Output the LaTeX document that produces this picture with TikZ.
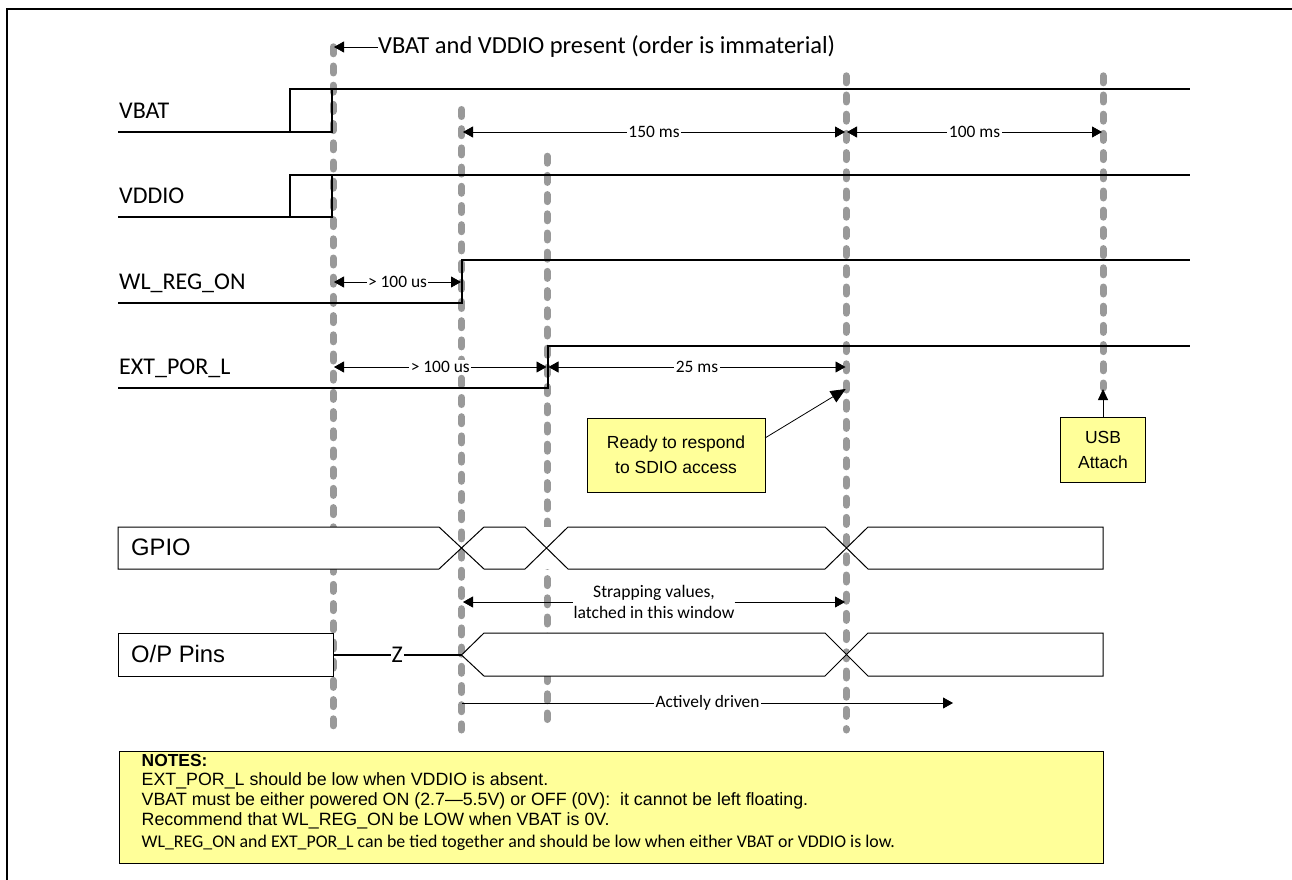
\documentclass[tikz,border=0pt]{standalone}
\usepackage{fontspec}
\setmainfont{Carlito}
\newfontfamily\arialf{Liberation Sans}
\usetikzlibrary{arrows.meta}
\definecolor{noteyellow}{HTML}{FFFF99}
\definecolor{guide}{HTML}{999999}
\tikzset{
 x=1pt,y=-1pt,
 guideline/.style={guide,line width=7pt,line cap=round,dash pattern=on 7pt off 12.2pt},
 signal/.style={black,line width=2pt},
 signaledge/.style={black,line width=1.4pt},
 bus/.style={black,line width=1pt,line join=miter},
 dim/.style={black,line width=.8pt,{Triangle[length=10pt,width=11pt]}-{Triangle[length=10pt,width=11pt]}},
 dimr/.style={black,line width=.8pt,-{Triangle[length=10pt,width=11pt]}},
 diml/.style={black,line width=.8pt,{Triangle[length=10pt,width=11pt]}-},
 siglabel/.style={inner sep=0pt,anchor=west,font=\fontsize{24}{28}\selectfont},
 buslabel/.style={inner sep=0pt,anchor=west,font=\arialf\fontsize{23.8}{28}\selectfont},
 dimlabel/.style={inner sep=1.5pt,fill=white,font=\fontsize{17.4}{21}\selectfont},
 callout/.style={draw=black,line width=1pt,fill=noteyellow,align=center,inner sep=0pt,font=\arialf\fontsize{17.5}{25}\selectfont},
 noteline/.style={inner sep=0pt,anchor=west,font=\arialf\fontsize{17.8}{20}\selectfont},
}
\begin{document}
\begin{tikzpicture}
\useasboundingbox (0,0) rectangle (1292,880);
% frame
\draw[black,line width=2pt] (6.7,880) -- (6.7,9) -- (1292,9);
% guides
\coordinate (g1t) at (333,46.8); \coordinate (g1b) at (333,726);
\coordinate (g2t) at (461.5,109.5); \coordinate (g2b) at (461.5,730);
\coordinate (g3t) at (547,156.2); \coordinate (g3b) at (547,719.5);
\coordinate (g4t) at (846,75.8); \coordinate (g4b) at (846,730);
\coordinate (g5t) at (1103,75.8); \coordinate (g5b) at (1103,388);
\foreach \i in {1,...,5} \draw[guideline] (g\i t) -- (g\i b);
% signals
\draw[signaledge] (118,132) -- (290,132) -- (290,89) -- (1190,89);
\draw[signal] (118,132) -- (332,132) -- (332,89);
\draw[signaledge] (118,217) -- (290,217) -- (290,175) -- (1190,175);
\draw[signal] (118,217) -- (332,217) -- (332,175);
\draw[signal] (118,303) -- (462,303) -- (462,260) -- (1190,260);
\draw[signal] (118,388) -- (548,388) -- (548,346) -- (1190,346);
\node[siglabel] (vbat) at (119,111) {VBAT};
\node[siglabel] (vddio) at (119,196) {VDDIO};
\node[siglabel] (wl) at (119,283) {WL\_REG\_ON};
\node[siglabel] (ext) at (119,368) {EXT\_POR\_L};
% top note
\node[inner sep=0pt,anchor=west,font=\fontsize{24.5}{28}\selectfont] (present) at (378,47) {VBAT and VDDIO present (order is immaterial)};
\coordinate (ptip) at (334,47);
\draw[diml] (ptip) -- (present.west);
% dimensions
\coordinate (a1) at (334,282); \coordinate (a2) at (461,282);
\draw[dim] (a1) -- node[dimlabel,pos=.5] (l1) {> 100 us} (a2);
\coordinate (b1) at (334,367); \coordinate (b2) at (546.5,367);
\draw[dim] (b1) -- node[dimlabel,pos=.5] (l2) {> 100 us} (b2);
\coordinate (c1) at (548.5,367); \coordinate (c2) at (845.5,367);
\draw[dim] (c1) -- node[dimlabel,pos=.5] (l3) {25 ms} (c2);
\coordinate (d1) at (463,132); \coordinate (d2) at (845,132);
\draw[dim] (d1) -- node[dimlabel,pos=.5] (l4) {150 ms} (d2);
\coordinate (e1) at (847,132); \coordinate (e2) at (1102,132);
\draw[dim] (e1) -- node[dimlabel,pos=.5] (l5) {100 ms} (e2);
% callouts
\node[callout,minimum width=178pt,minimum height=74pt] (ready) at (676,455) {\raisebox{-1pt}{Ready to respond}\\\raisebox{-1pt}{to SDIO access}};
\coordinate (readystart) at (765,438);
\coordinate (readytip) at (845.7,389);
\draw[black,line width=.8pt,-{Triangle[length=15pt,width=13pt]}] (readystart) -- (readytip);
\node[callout,minimum width=85pt,minimum height=65pt] (usb) at (1103,449.5) {USB\\Attach};
\coordinate (usbtip) at (1103,389);
\draw[black,line width=.8pt,-{Triangle[length=11pt,width=10pt]}] (usb.north) -- (usbtip);
% GPIO bus
\fill[white] (118,527) -- (439,527) -- (461.5,548) -- (439,569) -- (118,569) -- cycle;
\fill[white] (461.5,548) -- (484,527) -- (825,527) -- (846,548) -- (825,569) -- (484,569) -- cycle;
\fill[white] (846,548) -- (868,527) -- (1103,527) -- (1103,569) -- (868,569) -- cycle;
\draw[bus] (118,527) -- (439,527) -- (484,569) -- (525,569) -- (568,527) -- (825,527) -- (868,569) -- (1103,569) -- (1103,527) -- (868,527) -- (825,569) -- (568,569) -- (525,527) -- (484,527) -- (439,569) -- (118,569) -- cycle;
\node[buslabel] (gpio) at (131,547) {GPIO};
% strapping
\node[inner sep=0pt,align=center,font=\fontsize{17.6}{21}\selectfont] (strap) at (654,602) {Strapping values,\\latched in this window};
\coordinate (s1) at (463,602); \coordinate (s2) at (845,602);
\draw[diml] (s1) -- (strap.west |- s1);
\draw[dimr] (strap.east |- s2) -- (s2);
% O/P bus
\draw[bus,fill=white] (118,633) rectangle (333,676);
\node[buslabel] (op) at (131,654) {O/P Pins};
\coordinate (zl) at (333,655); \coordinate (zr) at (461.5,655);
\fill[white] (zr) -- (484,633) -- (825,633) -- (846,654.5) -- (825,676) -- (484,676) -- cycle;
\fill[white] (846,654.5) -- (868,633) -- (1103,633) -- (1103,676) -- (868,676) -- cycle;
\draw[signal] (zl) -- node[inner sep=1pt,fill=white,font=\fontsize{24}{28}\selectfont,pos=.5] (z) {Z} (zr);
\draw[bus] (zr) -- (484,633) -- (825,633) -- (868,676) -- (1103,676) -- (1103,633) -- (868,633) -- (825,676) -- (484,676) -- cycle;
% actively driven
\coordinate (ad1) at (462,703); \coordinate (ad2) at (953,703);
\draw[dimr] (ad1) -- node[dimlabel,pos=.5] (l6) {Actively driven} (ad2);
% notes
\draw[black,line width=1pt,fill=noteyellow] (119,751) rectangle (1103,863);
\node[noteline,font=\arialf\bfseries\fontsize{17.4}{20}\selectfont] (n0) at (141.5,761) {NOTES:};
\node[noteline] (n1) at (141.5,781) {EXT\_POR\_L should be low when VDDIO is absent.};
\node[noteline] (n2) at (141.5,801) {VBAT must be either powered ON (2.7—5.5V) or OFF (0V):\ \ it cannot be left floating.};
\node[noteline] (n3) at (141.5,821) {Recommend that WL\_REG\_ON be LOW when VBAT is 0V.};
\node[noteline,font=\fontsize{17.85}{20}\selectfont] (n4) at (141.5,843) {WL\_REG\_ON and EXT\_POR\_L can be tied together and should be low when either VBAT or VDDIO is low.};
\end{tikzpicture}
\end{document}
